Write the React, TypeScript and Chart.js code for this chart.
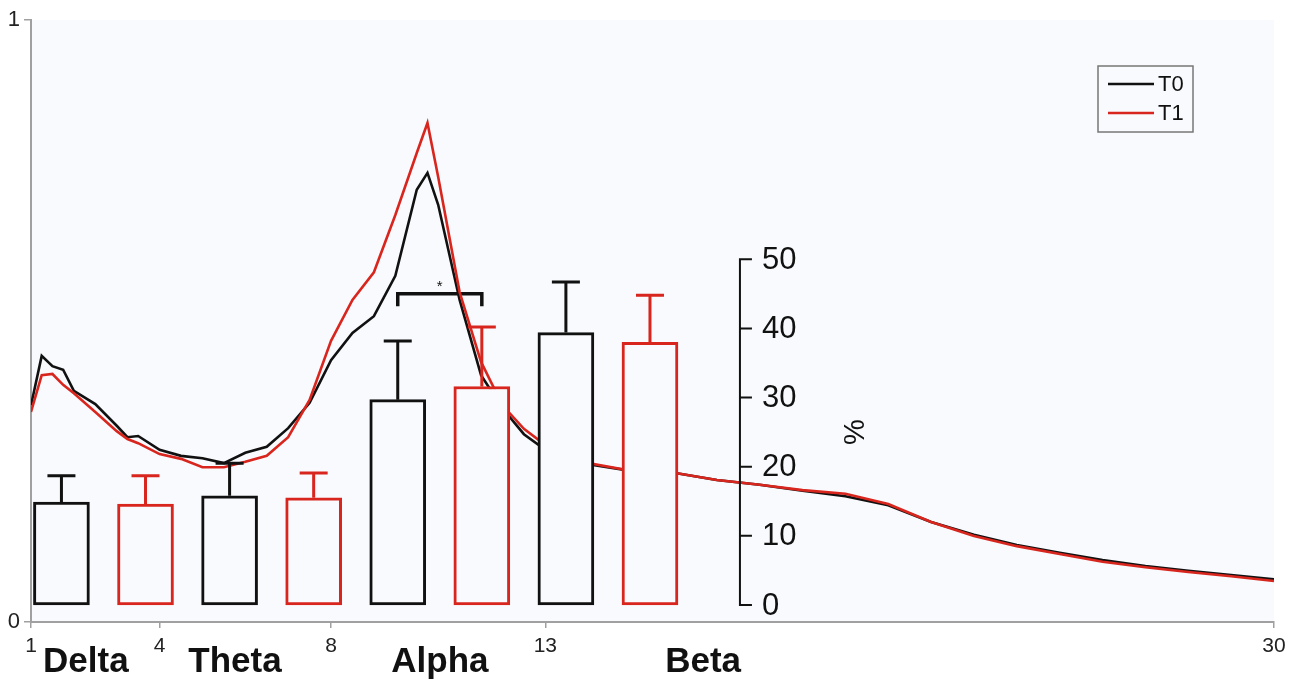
import React, { useEffect, useRef } from "react";
import { Chart, registerables } from "chart.js";
Chart.register(...registerables);

// ---- Spectrum (relative power) ----
const freqs = [1, 1.25, 1.5, 1.75, 2, 2.5, 3, 3.25, 3.5, 4, 4.5, 5, 5.5, 6, 6.5, 7, 7.5, 8, 8.5, 9, 9.5, 10, 10.25, 10.5, 11, 11.5, 12, 12.5, 13, 14, 15, 16, 17, 18, 19, 20, 21, 22, 23, 24, 25, 26, 27, 28, 29, 30];
const t0Power = [0.360, 0.442, 0.425, 0.419, 0.384, 0.362, 0.326, 0.307, 0.309, 0.286, 0.276, 0.272, 0.264, 0.281, 0.291, 0.322, 0.364, 0.435, 0.480, 0.508, 0.575, 0.718, 0.746, 0.693, 0.535, 0.410, 0.355, 0.312, 0.286, 0.262, 0.251, 0.248, 0.236, 0.228, 0.218, 0.209, 0.194, 0.166, 0.145, 0.128, 0.115, 0.103, 0.093, 0.085, 0.078, 0.071];
const t1Power = [0.349, 0.410, 0.412, 0.394, 0.380, 0.349, 0.317, 0.304, 0.297, 0.279, 0.271, 0.257, 0.257, 0.266, 0.276, 0.307, 0.369, 0.467, 0.535, 0.581, 0.676, 0.779, 0.829, 0.739, 0.548, 0.432, 0.360, 0.321, 0.294, 0.264, 0.251, 0.248, 0.236, 0.228, 0.219, 0.213, 0.196, 0.166, 0.143, 0.126, 0.113, 0.100, 0.091, 0.083, 0.076, 0.068];
const xTickValues = [1, 4, 8, 13, 30];
const yTickValues = [0, 1];
const seriesNames = ["T0", "T1"];

// ---- Band percentages (bars) ----
const bands = ["Delta", "Theta", "Alpha", "Beta"];
const t0BandPct = [14.9, 15.8, 29.7, 39.4];
const t0BandErr = [3.8, 4.7, 8.5, 7.3];
const t1BandPct = [14.6, 15.5, 31.6, 38.0];
const t1BandErr = [4.1, 3.6, 8.6, 6.8];
const pctTicks = [0, 10, 20, 30, 40, 50];
const sigBandIndex = 2;
const sigLevel = 45;
const sigLegLevel = 43.2;

const BLACK = "#111111";
const RED = "#d8261e";
const BG = "#f9fafd";
const FONT = '"Liberation Sans", Arial, Helvetica, sans-serif';

// band index axis range (group i centred on value i); each series offset by a quarter group
const BAND_MIN = -0.431;
const BAND_MAX = 6.961;
const SERIES_SHIFT = 0.25;

const decorPlugin = {
  id: "decor",
  beforeDraw(chart: any) {
    const { ctx, chartArea: a } = chart;
    ctx.save();
    ctx.fillStyle = BG;
    ctx.fillRect(a.left, a.top, a.right - a.left, a.bottom - a.top);
    ctx.restore();
  },
  beforeDatasetsDraw(chart: any) {
    const { ctx } = chart;
    const yb = chart.scales.yb;
    const m0 = chart.getDatasetMeta(0);
    const m1 = chart.getDatasetMeta(1);
    const xl = m0.data[sigBandIndex].x;
    const xr = m1.data[sigBandIndex].x;
    const yy = yb.getPixelForValue(sigLevel);
    const yl = yb.getPixelForValue(sigLegLevel);
    ctx.save();
    ctx.strokeStyle = BLACK;
    ctx.lineWidth = 3.5;
    ctx.beginPath();
    ctx.moveTo(xl, yl);
    ctx.lineTo(xl, yy);
    ctx.lineTo(xr, yy);
    ctx.lineTo(xr, yl);
    ctx.stroke();
    ctx.fillStyle = BLACK;
    ctx.font = `15px ${FONT}`;
    ctx.textAlign = "center";
    ctx.textBaseline = "middle";
    ctx.fillText("*", (xl + xr) / 2, yy - 7);
    ctx.restore();
  },
  afterDatasetsDraw(chart: any) {
    const { ctx } = chart;
    const yb = chart.scales.yb;
    const xs = chart.scales.x;
    ctx.save();
    [0, 1].forEach((di) => {
      const meta = chart.getDatasetMeta(di);
      const ds = chart.data.datasets[di];
      const errs = di === 0 ? t0BandErr : t1BandErr;
      const vals = di === 0 ? t0BandPct : t1BandPct;
      ctx.strokeStyle = ds.borderColor;
      ctx.lineWidth = 3;
      meta.data.forEach((el: any, i: number) => {
        const top = yb.getPixelForValue(vals[i] + errs[i]);
        ctx.beginPath();
        ctx.moveTo(el.x, el.y);
        ctx.lineTo(el.x, top);
        ctx.moveTo(el.x - 14, top);
        ctx.lineTo(el.x + 14, top);
        ctx.stroke();
      });
    });
    const ax = xs.getPixelForValue(17.54);
    const y0 = yb.getPixelForValue(pctTicks[0]);
    const y1 = yb.getPixelForValue(pctTicks[pctTicks.length - 1]);
    ctx.strokeStyle = BLACK;
    ctx.lineWidth = 2;
    ctx.beginPath();
    ctx.moveTo(ax, y0);
    ctx.lineTo(ax, y1);
    pctTicks.forEach((t) => {
      const py = yb.getPixelForValue(t);
      ctx.moveTo(ax - 1, py);
      ctx.lineTo(ax + 12, py);
    });
    ctx.stroke();
    ctx.fillStyle = BLACK;
    ctx.font = `31px ${FONT}`;
    ctx.textAlign = "left";
    ctx.textBaseline = "middle";
    pctTicks.forEach((t) => {
      ctx.fillText(String(t), ax + 22, yb.getPixelForValue(t) + 1);
    });
    ctx.save();
    ctx.translate(ax + 116, (y0 + y1) / 2);
    ctx.rotate(-Math.PI / 2);
    ctx.textAlign = "center";
    ctx.font = `29px ${FONT}`;
    ctx.fillText("%", 0, 0);
    ctx.restore();
    const bandPos = [2.28, 5.76, 10.54, 16.68];
    ctx.font = `bold 35px ${FONT}`;
    ctx.textAlign = "center";
    ctx.textBaseline = "alphabetic";
    ctx.fillStyle = "#111";
    bands.forEach((b, i) => {
      ctx.fillText(b, xs.getPixelForValue(bandPos[i]), 672);
    });
    const lx = 1098, ly = 66, lw = 95, lh = 66;
    ctx.strokeStyle = "#777";
    ctx.lineWidth = 1.5;
    ctx.strokeRect(lx, ly, lw, lh);
    ctx.font = `22px ${FONT}`;
    ctx.textAlign = "left";
    ctx.textBaseline = "middle";
    [2, 3].forEach((di, k) => {
      const ds = chart.data.datasets[di];
      const yy = ly + 18 + k * 29;
      ctx.strokeStyle = ds.borderColor;
      ctx.lineWidth = 2.5;
      ctx.beginPath();
      ctx.moveTo(lx + 10, yy);
      ctx.lineTo(lx + 56, yy);
      ctx.stroke();
      ctx.fillStyle = "#111";
      ctx.fillText(ds.label, lx + 60, yy + 1);
    });
    ctx.restore();
  },
};

const bandAxis = (shift: number) => ({
  type: "linear",
  axis: "x",
  position: "bottom",
  display: false,
  offset: false,
  min: BAND_MIN + shift,
  max: BAND_MAX + shift,
  afterBuildTicks: (s: any) => {
    s.ticks = bands.map((_, i) => ({ value: i }));
  },
});

export default function App() {
  const ref = useRef<HTMLCanvasElement | null>(null);
  useEffect(() => {
    if (!ref.current) return;
    const lineData = (vals: number[]) => freqs.map((f, i) => ({ x: f, y: vals[i] }));
    const barData = (vals: number[]) => vals.map((v, i) => ({ x: i, y: v }));
    const barCommon = {
      type: "bar",
      yAxisID: "yb",
      backgroundColor: BG,
      borderWidth: 3,
      borderSkipped: false,
      grouped: false,
      barThickness: 56,
      order: 0,
    };
    const chart = new Chart(ref.current, {
      type: "line",
      data: {
        datasets: [
          {
            ...barCommon,
            label: seriesNames[0] + " %",
            data: barData(t0BandPct),
            xAxisID: "xb0",
            borderColor: BLACK,
          } as any,
          {
            ...barCommon,
            label: seriesNames[1] + " %",
            data: barData(t1BandPct),
            xAxisID: "xb1",
            borderColor: RED,
          } as any,
          {
            type: "line",
            label: seriesNames[0],
            data: lineData(t0Power),
            xAxisID: "x",
            yAxisID: "y",
            borderColor: BLACK,
            borderWidth: 2.6,
            pointRadius: 0,
            tension: 0,
            order: 2,
          },
          {
            type: "line",
            label: seriesNames[1],
            data: lineData(t1Power),
            xAxisID: "x",
            yAxisID: "y",
            borderColor: RED,
            borderWidth: 2.6,
            pointRadius: 0,
            tension: 0,
            order: 1,
          },
        ],
      },
      options: {
        animation: false,
        responsive: false,
        devicePixelRatio: 1,
        layout: { padding: { top: 20, right: 27, left: 0, bottom: 0 } },
        plugins: { legend: { display: false }, tooltip: { enabled: false } },
        scales: {
          x: {
            type: "linear",
            position: "bottom",
            min: 1,
            max: 30,
            afterBuildTicks: (s: any) => {
              s.ticks = xTickValues.map((v) => ({ value: v }));
            },
            afterFit: (s: any) => {
              s.height = 64;
            },
            ticks: {
              autoSkip: false,
              maxRotation: 0,
              padding: 6,
              color: "#222",
              font: { family: FONT, size: 21 },
            },
            grid: { drawOnChartArea: false, drawTicks: true, tickLength: 6, color: "#a0a0a0", lineWidth: 1.5 },
            border: { color: "#a0a0a0", width: 2 },
          },
          y: {
            type: "linear",
            position: "left",
            min: 0,
            max: 1,
            afterBuildTicks: (s: any) => {
              s.ticks = yTickValues.map((v) => ({ value: v }));
            },
            afterFit: (s: any) => {
              s.width = 31;
            },
            ticks: {
              padding: 4,
              color: "#222",
              font: { family: FONT, size: 22 },
            },
            grid: { drawOnChartArea: false, drawTicks: true, tickLength: 7, color: "#a0a0a0", lineWidth: 1.5 },
            border: { color: "#a0a0a0", width: 2 },
          },
          xb0: bandAxis(SERIES_SHIFT),
          xb1: bandAxis(-SERIES_SHIFT),
          yb: {
            type: "linear",
            axis: "y",
            position: "left",
            display: false,
            min: -2.459,
            max: 84.61,
          },
        },
      } as any,
      plugins: [decorPlugin],
    });
    return () => chart.destroy();
  }, []);
  return (
    <div style={{ position: "fixed", left: 0, top: 0, width: 1301, height: 686, background: "#fff" }}>
      <canvas ref={ref} width={1301} height={686} style={{ width: 1301, height: 686, display: "block" }} />
    </div>
  );
}
